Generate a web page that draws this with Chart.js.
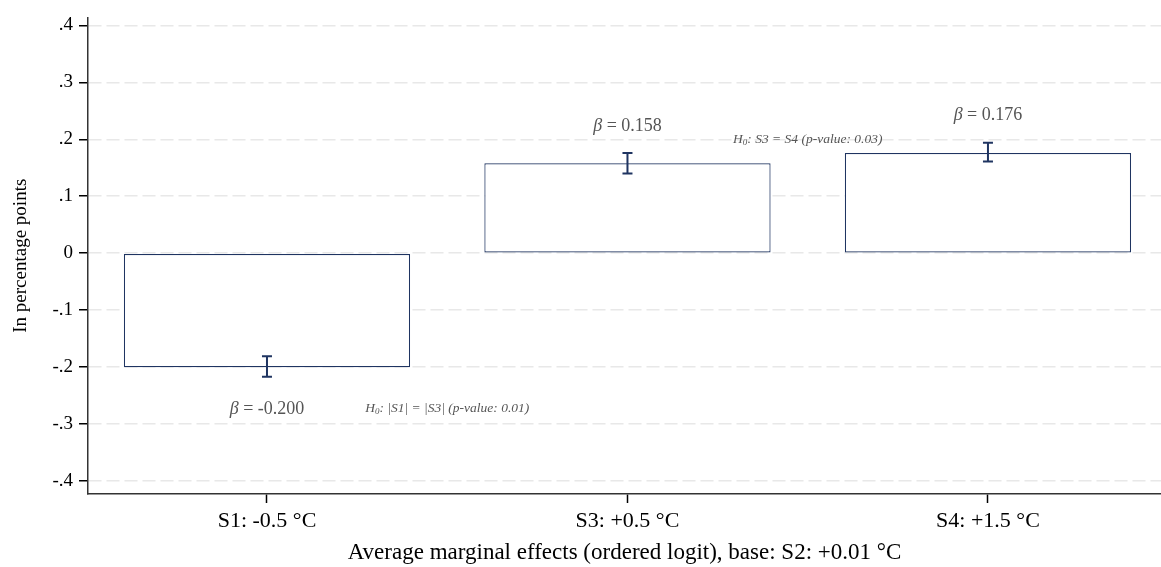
<!DOCTYPE html>
<html>
<head>
<meta charset="utf-8">
<script src="https://cdn.jsdelivr.net/npm/chart.js@4"></script>
<style>
  html, body { margin: 0; padding: 0; background: #fff; }
  #wrap { width: 1161px; height: 567px; position: relative; }
</style>
</head>
<body>
<div id="wrap"><canvas id="chart"></canvas></div>
<script>
const categories = ["S1: -0.5 °C", "S3: +0.5 °C", "S4: +1.5 °C"];
const effects = [-0.200, 0.158, 0.176];
const ciLow = [-0.217, 0.140, 0.161];
const ciHigh = [-0.181, 0.176, 0.194];
const betaLabels = ["-0.200", "0.158", "0.176"];
const yTicks = [-0.4, -0.3, -0.2, -0.1, 0, 0.1, 0.2, 0.3, 0.4];
const tests = ["|S1| = |S3| (p-value: 0.01)", "S3 = S4 (p-value: 0.03)"];

const SERIF = "'Liberation Serif', 'Times New Roman', serif";
const NAVY = "#1f3461";

function fmtTick(v) {
  if (Math.abs(v) < 1e-9) return "0";
  const s = v.toFixed(1);
  return s.replace("0.", ".");
}

// error bars + text annotations
const extras = {
  id: "extras",
  afterDatasetsDraw(chart) {
    const ctx = chart.ctx;
    const x = chart.scales.x, y = chart.scales.y;
    ctx.save();
    ctx.strokeStyle = NAVY;
    ctx.lineWidth = 2;
    effects.forEach((v, i) => {
      const px = x.getPixelForValue(i);
      const lo = y.getPixelForValue(ciLow[i]);
      const hi = y.getPixelForValue(ciHigh[i]);
      ctx.beginPath();
      ctx.moveTo(px, lo); ctx.lineTo(px, hi);
      ctx.moveTo(px - 5, lo); ctx.lineTo(px + 5, lo);
      ctx.moveTo(px - 5, hi); ctx.lineTo(px + 5, hi);
      ctx.stroke();
    });

    // beta labels
    ctx.fillStyle = "#555";
    ctx.textBaseline = "middle";
    ctx.textAlign = "left";
    const betaY = [];
    effects.forEach((v, i) => {
      const px = x.getPixelForValue(i);
      const py = v < 0 ? y.getPixelForValue(ciLow[i]) + 32 : y.getPixelForValue(ciHigh[i]) - 27;
      betaY.push(py);
      const rest = " = " + betaLabels[i];
      ctx.font = "italic 18px " + SERIF;
      const w1 = ctx.measureText("β").width;
      ctx.font = "18px " + SERIF;
      const w2 = ctx.measureText(rest).width;
      let sx = px - (w1 + w2) / 2;
      ctx.font = "italic 18px " + SERIF;
      ctx.fillText("β", sx, py);
      ctx.font = "18px " + SERIF;
      ctx.fillText(rest, sx + w1, py);
    });

    // hypothesis tests
    const testPos = [
      [0.5, betaY[0]],
      [1.5, y.getPixelForValue(0.2)]
    ];
    tests.forEach((t, i) => {
      const px = x.getPixelForValue(testPos[i][0]);
      const py = testPos[i][1];
      const rest = ": " + t;
      ctx.font = "italic 13.5px " + SERIF;
      const wH = ctx.measureText("H").width;
      const wR = ctx.measureText(rest).width;
      ctx.font = "italic 9px " + SERIF;
      const w0 = ctx.measureText("0").width;
      let sx = px - (wH + w0 + wR) / 2;
      ctx.font = "italic 13.5px " + SERIF;
      ctx.fillText("H", sx, py);
      ctx.font = "italic 9px " + SERIF;
      ctx.fillText("0", sx + wH, py + 3);
      ctx.font = "italic 13.5px " + SERIF;
      ctx.fillText(rest, sx + wH + w0, py);
    });
    ctx.restore();
  }
};

new Chart(document.getElementById("chart"), {
  type: "bar",
  data: {
    datasets: [{
      data: effects.map((v, i) => ({ x: i, y: v })),
      backgroundColor: "#ffffff",
      borderColor: NAVY,
      borderWidth: 1.2,
      borderSkipped: false,
      categoryPercentage: 1,
      barPercentage: 0.794
    }]
  },
  options: {
    responsive: true,
    maintainAspectRatio: false,
    animation: false,
    layout: { padding: { top: 12, right: 0, left: 0, bottom: 0 } },
    plugins: { legend: { display: false }, tooltip: { enabled: false } },
    scales: {
      x: {
        type: "linear",
        min: -0.4965,
        max: 2.48,
        offset: false,
        afterBuildTicks: (s) => { s.ticks = categories.map((c, i) => ({ value: i })); },
        afterFit: (s) => { s.height = 73; },
        grid: { offset: false, drawOnChartArea: false, drawTicks: true, tickLength: 9, tickColor: "#000", tickWidth: 1.5 },
        border: { color: "#333", width: 1.5 },
        ticks: {
          color: "#000",
          padding: 5,
          maxRotation: 0,
          font: { family: SERIF, size: 22 },
          callback: (v) => categories[v] ?? ""
        },
        title: {
          display: true,
          text: "Average marginal effects (ordered logit), base: S2: +0.01 °C",
          color: "#000",
          font: { family: SERIF, size: 23 },
          padding: { top: 0, bottom: 0 }
        }
      },
      y: {
        min: -0.4227,
        max: 0.4139,
        afterBuildTicks: (s) => { s.ticks = yTicks.map(v => ({ value: v })); },
        afterFit: (s) => { s.width = 88; },
        grid: {
          color: "#e8e8e8",
          lineWidth: 1.5,
          drawTicks: true,
          tickLength: 9,
          tickColor: "#000",
          tickWidth: 1.5,
          tickBorderDash: []
        },
        border: { color: "#333", width: 1.5, dash: [13, 5] },
        ticks: {
          color: "#000",
          padding: 6,
          font: { family: SERIF, size: 19 },
          callback: (v) => fmtTick(v)
        },
        title: {
          display: true,
          text: "In percentage points",
          color: "#000",
          font: { family: SERIF, size: 19 },
          padding: { top: 10, bottom: 0 }
        }
      }
    }
  },
  plugins: [extras]
});
</script>
</body>
</html>
